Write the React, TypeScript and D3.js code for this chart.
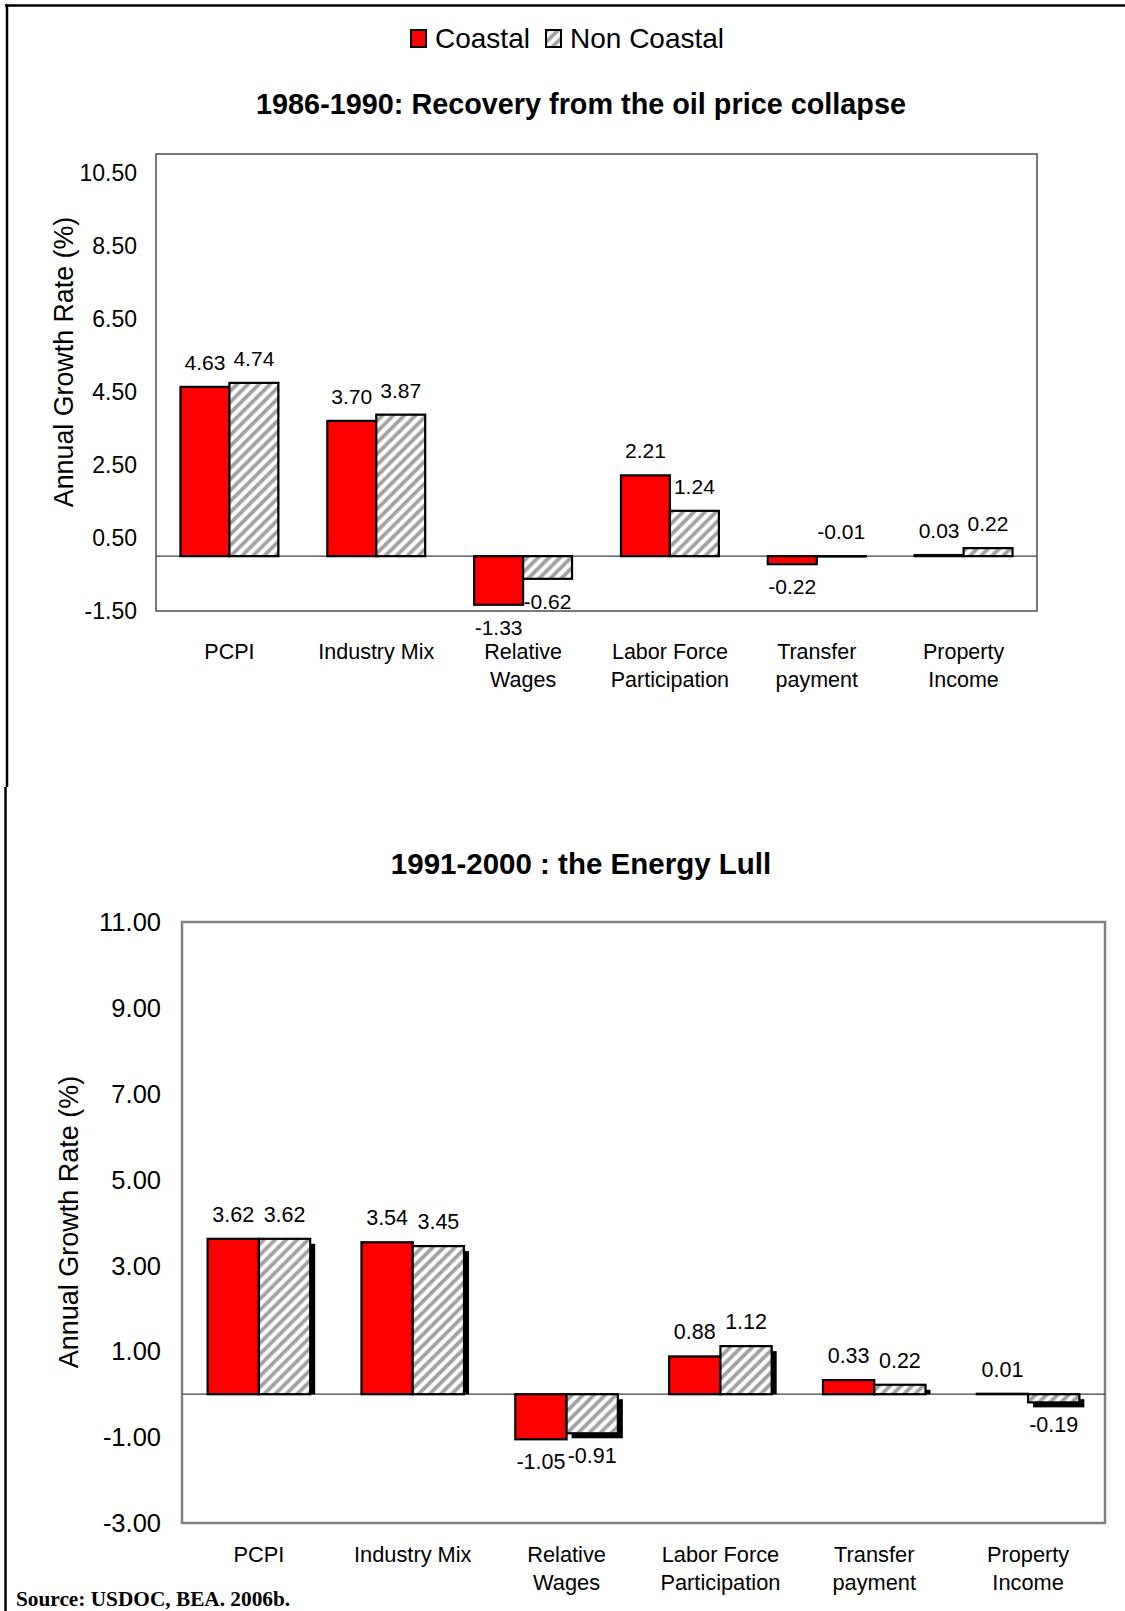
import React from 'react';
import * as d3 from 'd3';

const categories: string[][] = [
  ['PCPI'],
  ['Industry Mix'],
  ['Relative', 'Wages'],
  ['Labor Force', 'Participation'],
  ['Transfer', 'payment'],
  ['Property', 'Income'],
];
const seriesNames = ['Coastal', 'Non Coastal'];

const coastal1 = [4.63, 3.70, -1.33, 2.21, -0.22, 0.03];
const nonCoastal1 = [4.74, 3.87, -0.62, 1.24, -0.01, 0.22];
const ticks1 = [-1.5, 0.5, 2.5, 4.5, 6.5, 8.5, 10.5];
const domain1: [number, number] = [-1.5, 11];
const title1 = '1986-1990: Recovery from the oil price collapse';

const coastal2 = [3.62, 3.54, -1.05, 0.88, 0.33, 0.01];
const nonCoastal2 = [3.62, 3.45, -0.91, 1.12, 0.22, -0.19];
const ticks2 = [-3, -1, 1, 3, 5, 7, 9, 11];
const domain2: [number, number] = [-3, 11];
const title2 = '1991-2000 : the Energy Lull';

const yTitle = 'Annual Growth Rate (%)';
const source = 'Source: USDOC, BEA. 2006b.';

const W = 1125;
const H = 1611;
const SANS = '"Liberation Sans", Arial, sans-serif';

type PanelProps = {
  left: number; right: number; top: number; bottom: number;
  domain: [number, number]; ticks: number[];
  s1: number[]; s2: number[];
  title: string; titleX: number; titleY: number; titleSize: number;
  tickSize: number; tickX: number;
  catSize: number; catY: number;
  valSize: number;
  yTitleX: number; yTitleY: number; yTitleSize: number;
  frameColor: string; frameWidth: number;
  shadow: boolean;
};

function Panel(p: PanelProps) {
  const y = d3.scaleLinear().domain(p.domain).range([p.bottom, p.top]);
  const x = d3.scaleBand<number>().domain(d3.range(categories.length)).range([p.left, p.right]).paddingInner(0).paddingOuter(0);
  const bw = x.bandwidth();
  const xs = d3.scaleBand<number>().domain([0, 1]).range([bw / 6, (bw * 5) / 6]);
  const y0 = y(0);
  const series = [p.s1, p.s2];
  const fills = ['#FF0000', 'url(#hatch)'];
  const off = 5;
  return (
    <g>
      <text x={p.titleX} y={p.titleY} textAnchor="middle" fontFamily={SANS} fontWeight="bold" fontSize={p.titleSize}>{p.title}</text>
      <rect x={p.left} y={p.top} width={p.right - p.left} height={p.bottom - p.top} fill="none" stroke={p.frameColor} strokeWidth={p.frameWidth} />
      {p.ticks.map((t) => (
        <text key={t} x={p.tickX} y={y(t)} dy="0.36em" textAnchor="end" fontFamily={SANS} fontSize={p.tickSize}>{t.toFixed(2)}</text>
      ))}
      <text transform={`translate(${p.yTitleX},${p.yTitleY}) rotate(-90)`} textAnchor="middle" dy="0.36em" fontFamily={SANS} fontSize={p.yTitleSize}>{yTitle}</text>
      <line x1={p.left} x2={p.right} y1={y0} y2={y0} stroke="#404040" strokeWidth={1.2} />
      {p.shadow && p.s2.map((v, i) => {
        const bx = (x(i) as number) + (xs(1) as number);
        const yv = y(v);
        const ys = v >= 0 ? yv + off : y0 + off;
        const ye = v >= 0 ? y0 : yv + off;
        return <rect key={`sh-${i}`} x={bx + off} y={ys} width={xs.bandwidth()} height={Math.max(0, ye - ys)} fill="#000" />;
      })}
      {series.map((vals, si) => vals.map((v, i) => {
        const bx = (x(i) as number) + (xs(si) as number);
        const yt = Math.min(y(v), y0);
        const h = Math.abs(y(v) - y0);
        return <rect key={`b${si}-${i}`} x={bx} y={yt} width={xs.bandwidth()} height={h} fill={fills[si]} stroke="#000" strokeWidth={2.2} />;
      }))}
      {series.map((vals, si) => vals.map((v, i) => {
        const bx = (x(i) as number) + (xs(si) as number) + xs.bandwidth() / 2;
        const above = v >= 0 || v > -0.05;
        const yy = above ? Math.min(y(v), y0) - 17 : Math.max(y(v), y0) + 30;
        return <text key={`v${si}-${i}`} x={bx} y={yy} textAnchor="middle" fontFamily={SANS} fontSize={p.valSize}>{v.toFixed(2)}</text>;
      }))}
      {categories.map((lines, i) => (
        <text key={`c${i}`} x={(x(i) as number) + bw / 2} y={p.catY} textAnchor="middle" fontFamily={SANS} fontSize={p.catSize}>
          {lines.map((l, j) => (
            <tspan key={j} x={(x(i) as number) + bw / 2} dy={j === 0 ? 0 : 28}>{l}</tspan>
          ))}
        </text>
      ))}
    </g>
  );
}

export default function App() {
  return (
    <svg width={W} height={H} viewBox={`0 0 ${W} ${H}`} style={{ position: 'absolute', left: 0, top: 0, background: '#fff' }}>
      <defs>
        <pattern id="hatch" patternUnits="userSpaceOnUse" width={7.8} height={7.8} patternTransform="rotate(45)">
          <rect x={0} y={0} width={7.8} height={7.8} fill="#fff" />
          <rect x={0.6} y={0} width={3.8} height={7.8} fill="#a0a0a0" />
        </pattern>
      </defs>
      <rect x={0} y={0} width={W} height={H} fill="#fff" />
      {/* outer frame */}
      <line x1={5} x2={W} y1={5.5} y2={5.5} stroke="#000" strokeWidth={2.5} />
      <line x1={7} x2={7} y1={4.5} y2={787} stroke="#000" strokeWidth={2.5} />
      <line x1={5.5} x2={5.5} y1={787} y2={H} stroke="#000" strokeWidth={2.5} />

      {/* legend */}
      <g fontFamily={SANS} fontSize={28}>
        <rect x={411} y={30} width={15} height={17} fill="#FF0000" stroke="#000" strokeWidth={2} />
        <text x={435} y={48}>{seriesNames[0]}</text>
        <rect x={546} y={30} width={15} height={17} fill="url(#hatch)" stroke="#000" strokeWidth={2} />
        <text x={570} y={48}>{seriesNames[1]}</text>
      </g>

      <Panel left={156} right={1037} top={154} bottom={611} domain={domain1} ticks={ticks1}
        s1={coastal1} s2={nonCoastal1} title={title1} titleX={581} titleY={114} titleSize={28.8}
        tickSize={23} tickX={137} catSize={21.5} catY={659} valSize={21}
        yTitleX={63} yTitleY={362} yTitleSize={26.8} frameColor="#333" frameWidth={1.3} shadow={false} />

      <Panel left={182} right={1105} top={922} bottom={1523} domain={domain2} ticks={ticks2}
        s1={coastal2} s2={nonCoastal2} title={title2} titleX={581} titleY={874} titleSize={29.5}
        tickSize={25.5} tickX={161} catSize={21.8} catY={1562} valSize={21.5}
        yTitleX={68} yTitleY={1222} yTitleSize={27} frameColor="#808080" frameWidth={2.5} shadow={true} />

      <text x={16} y={1606} fontFamily='"Liberation Serif", "Times New Roman", serif' fontWeight="bold" fontSize={21.3}>{source}</text>
    </svg>
  );
}
